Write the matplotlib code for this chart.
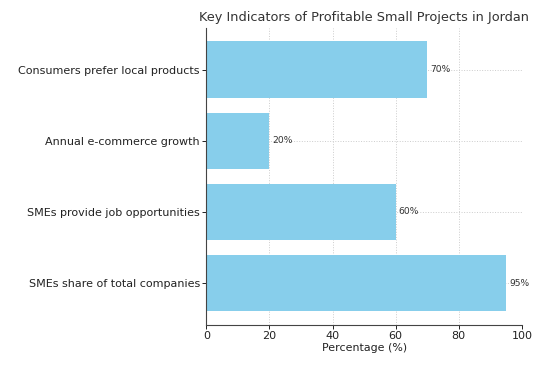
import matplotlib
matplotlib.use("Agg")
import matplotlib.pyplot as plt

indicators = ["SMEs share of total companies",
              "SMEs provide job opportunities",
              "Annual e-commerce growth",
              "Consumers prefer local products"]
percentages = [95, 60, 20, 70]

fig, ax = plt.subplots(figsize=(5.5, 3.68), dpi=100)
bars = ax.barh(indicators, percentages, color="skyblue", height=0.8)

for bar, val in zip(bars, percentages):
    ax.text(bar.get_width() + 1, bar.get_y() + bar.get_height() / 2, f"{val}%",
            va="center", ha="left", fontsize=6.6, color="#333333")

ax.set_xlim(0, 100)
ax.set_xlabel("Percentage (%)", fontsize=7.9, color="#222222", labelpad=1)
ax.set_title("Key Indicators of Profitable Small Projects in Jordan",
             fontsize=9.25, color="#333333", pad=5)
ax.tick_params(axis="both", labelsize=8.0, colors="#222222", length=3, width=0.7, pad=1.5)
ax.grid(True, linestyle=":", color="#cccccc", linewidth=0.7)
ax.set_axisbelow(True)
ax.spines["top"].set_visible(False)
ax.spines["right"].set_visible(False)
ax.spines["left"].set_color("#444444")
ax.spines["bottom"].set_color("#444444")

plt.subplots_adjust(left=0.375, right=0.949, top=0.924, bottom=0.117)
fig.savefig("out.png", dpi=100)
